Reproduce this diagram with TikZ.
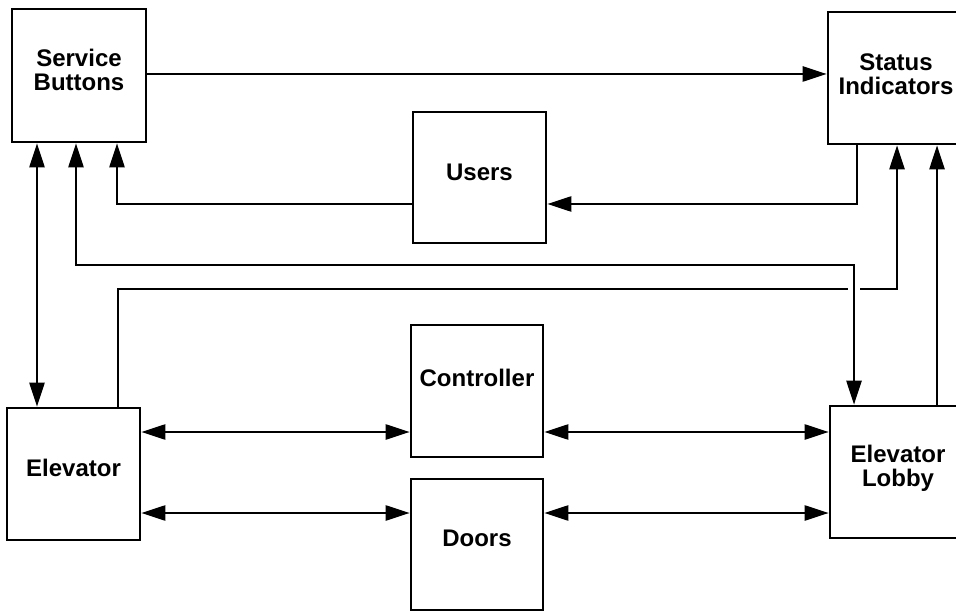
\documentclass[tikz,border=0pt]{standalone}
\usepackage{fontspec}
\setmainfont{Liberation Sans}
\usetikzlibrary{arrows.meta}
\begin{document}
\begin{tikzpicture}[x=1pt,y=-1pt,
  box/.style={draw, line width=2.6pt, rectangle, inner sep=0pt},
  txt/.style={font=\fontsize{24}{24}\selectfont\bfseries, align=center, inner sep=0pt},
  conn/.style={line width=2.4pt, -{Triangle[length=24pt,width=15pt]}},
  dconn/.style={line width=2.4pt, {Triangle[length=24pt,width=15pt]}-{Triangle[length=24pt,width=15pt]}}]
\useasboundingbox (0,0) rectangle (956,612);
% boxes
\node[box, minimum width=134pt, minimum height=133pt,
  label={[txt,yshift=6pt]center:Service\\Buttons}] (SB) at (79,75.5) {};
\node[box, minimum width=136pt, minimum height=132pt,
  label={[txt,yshift=4pt]center:Status\\Indicators}] (SI) at (896,78) {};
\node[box, minimum width=133pt, minimum height=131pt,
  label={[txt,yshift=5pt]center:Users}] (U) at (479.5,177.5) {};
\node[box, minimum width=132pt, minimum height=132pt,
  label={[txt,yshift=13pt]center:Controller}] (C) at (477,391) {};
\node[box, minimum width=132pt, minimum height=131pt,
  label={[txt,yshift=6pt]center:Doors}] (D) at (477,544.5) {};
\node[box, minimum width=133pt, minimum height=132pt,
  label={[txt,yshift=6pt]center:Elevator}] (E) at (73.5,474) {};
\node[box, minimum width=136pt, minimum height=132pt,
  label={[txt,yshift=4pt]center:Elevator\\Lobby}] (L) at (898,472) {};
% helper coordinates
\coordinate (y74) at (0,74);
\coordinate (a857) at (857,204);
\coordinate (a117) at (117,204);
\coordinate (x37) at (37,0);
\coordinate (j1) at (76,265);
\coordinate (j2) at (854,265);
\coordinate (k1) at (118,289);
\coordinate (k2) at (848,289);
\coordinate (k3) at (860,289);
\coordinate (k4) at (897,289);
\coordinate (x937) at (937,0);
\coordinate (y432) at (0,432);
\coordinate (y513) at (0,513);
% connectors
\draw[conn] (SB.east |- y74) -- (SI.west |- y74);
\draw[conn] (SI.south -| a857) -- (a857) -- (U.east |- a857);
\draw[conn] (U.west |- a117) -- (a117) -- (SB.south -| a117);
\draw[dconn] (SB.south -| x37) -- (E.north -| x37);
\draw[dconn] (SB.south -| j1) -- (j1) -- (j2) -- (L.north -| j2);
\draw[line width=2.4pt] (E.north -| k1) -- (k1) -- (k2);
\draw[conn] (k3) -- (k4) -- (SI.south -| k4);
\draw[conn] (L.north -| x937) -- (SI.south -| x937);
\draw[dconn] (E.east |- y432) -- (C.west |- y432);
\draw[dconn] (C.east |- y432) -- (L.west |- y432);
\draw[dconn] (E.east |- y513) -- (D.west |- y513);
\draw[dconn] (D.east |- y513) -- (L.west |- y513);
\end{tikzpicture}
\end{document}
